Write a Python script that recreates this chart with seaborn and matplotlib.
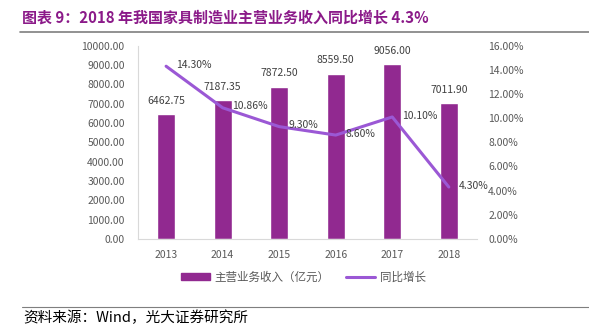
import matplotlib
matplotlib.use("Agg")
import matplotlib.pyplot as plt
import seaborn as sns
import numpy as np
from matplotlib.lines import Line2D
from matplotlib.patches import Patch

years = ["2013", "2014", "2015", "2016", "2017", "2018"]
revenue = [6462.75, 7187.35, 7872.50, 8559.50, 9056.00, 7011.90]
growth = [14.30, 10.86, 9.30, 8.60, 10.10, 4.30]
title = "图表 9：2018 年我国家具制造业主营业务收入同比增长 4.3%"
source = "资料来源：Wind，光大证券研究所"
legend_labels = ["主营业务收入（亿元）", "同比增长"]

sns.set_theme(style="white")
plt.rcParams['font.family'] = ['Noto Sans CJK SC', 'DejaVu Sans']

bar_color = "#912990"
line_color = "#9B58D5"
tick_color = "#595959"

fig = plt.figure(figsize=(5.89, 3.31), dpi=100)
ax = fig.add_axes([0.234, 0.278, 0.576, 0.584])

sns.barplot(x=years, y=revenue, ax=ax, color=bar_color, width=0.32, saturation=1)
ax.set_ylim(0, 10000)
ax.set_yticks(np.arange(0, 10001, 1000))
ax.set_yticklabels([f"{v:.2f}" for v in np.arange(0, 10001, 1000)])
ax.set_xlabel("")
ax.set_ylabel("")
ax.tick_params(axis='both', labelsize=7.5, colors=tick_color, length=0)
ax.tick_params(axis='y', pad=9.5)
ax.tick_params(axis='x', pad=8)
for s in ["top", "right"]:
    ax.spines[s].set_visible(False)
for s in ["left", "bottom"]:
    ax.spines[s].set_color("#D9D9D9")
    ax.spines[s].set_linewidth(0.8)
ax.set_xlim(-0.5, len(years) - 0.5)

for i, v in enumerate(revenue):
    ax.annotate(f"{v:.2f}", (i, v), xytext=(0, 6), textcoords="offset points",
                ha="center", va="bottom", fontsize=7.5, color="#404040")

ax2 = ax.twinx()
ax2.plot(range(len(years)), growth, color=line_color, linewidth=2.2)
ax2.set_ylim(0, 16)
ax2.set_yticks(np.arange(0, 17, 2))
ax2.set_yticklabels([f"{v:.2f}%" for v in np.arange(0, 17, 2)])
ax2.tick_params(axis='y', labelsize=7.5, colors=tick_color, length=0, pad=8)
for s in ["top", "right", "left", "bottom"]:
    ax2.spines[s].set_visible(False)
ax2.grid(False)
ax.grid(False)

for i, g in enumerate(growth):
    ax2.annotate(f"{g:.2f}%", (i, g), xytext=(7, 1), textcoords="offset points",
                 ha="left", va="center", fontsize=7.5, color="#404040")

handles = [Patch(facecolor=bar_color, edgecolor=bar_color),
           Line2D([0], [0], color=line_color, linewidth=2.2)]
leg = fig.legend(handles, legend_labels, loc="center", bbox_to_anchor=(0.515, 0.163),
                 ncol=2, frameon=False, fontsize=8.3, handlelength=2.5, handleheight=0.6,
                 columnspacing=1.5, handletextpad=0.4)
for t in leg.get_texts():
    t.set_color(tick_color)

fig.text(0.037, 0.948, title, fontsize=10.8, fontweight="bold", color="#8B1A89",
         ha="left", va="center")
fig.add_artist(Line2D([20/589, 1.0], [1 - 32/331, 1 - 32/331], color="#7F7F7F", linewidth=1.2))
fig.add_artist(Line2D([22/589, 1.0], [1 - 307/331, 1 - 307/331], color="#7F7F7F", linewidth=0.8))
fig.text(23/589, 1 - 318/331, source, fontsize=10.5, color="black", ha="left", va="center")

fig.savefig("out.png", dpi=100)
